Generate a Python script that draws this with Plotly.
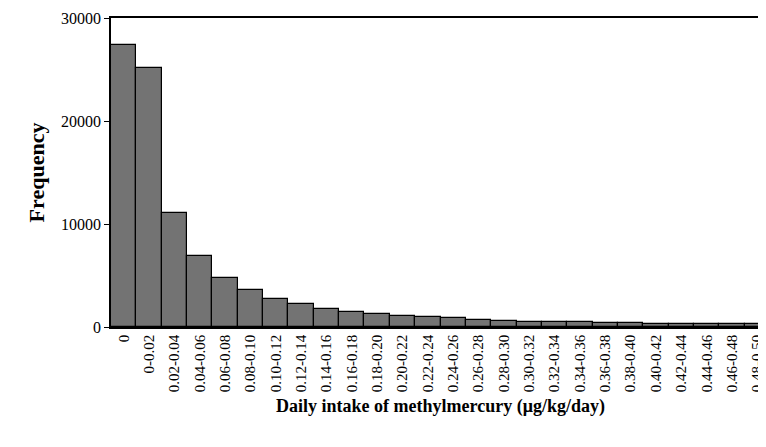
import plotly.graph_objects as go

categories = ["0","0-0.02","0.02-0.04","0.04-0.06","0.06-0.08","0.08-0.10","0.10-0.12","0.12-0.14",
              "0.14-0.16","0.16-0.18","0.18-0.20","0.20-0.22","0.22-0.24","0.24-0.26","0.26-0.28",
              "0.28-0.30","0.30-0.32","0.32-0.34","0.34-0.36","0.36-0.38","0.38-0.40","0.40-0.42",
              "0.42-0.44","0.44-0.46","0.46-0.48","0.48-0.50"]
frequency = [27400, 25100, 11100, 6900, 4750, 3600, 2750, 2200, 1750, 1450, 1250, 1100, 970,
             850, 710, 610, 520, 480, 470, 420, 360, 330, 280, 250, 250, 250]

fig = go.Figure(go.Bar(x=categories, y=frequency, marker=dict(color="#737373", line=dict(color="black", width=1.2)),
                       width=1.0))
font = "Liberation Serif"
fig.update_layout(
    width=766, height=447, margin=dict(l=103, r=4, t=10, b=128, autoexpand=False),
    plot_bgcolor="white", paper_bgcolor="white", showlegend=False,
    font=dict(family=font, color="black", size=16),
    bargap=0,
)
fig.update_xaxes(tickangle=-90, showline=True, linecolor="black", linewidth=1.5, mirror=True,
                 ticks="", tickfont=dict(size=15), automargin=False,
                 title=dict(text="<b>Daily intake of methylmercury (μg/kg/day)</b>", font=dict(size=18), standoff=8))
fig.update_yaxes(range=[0, 30000], dtick=10000, tickformat="d", showline=True, linecolor="black", linewidth=1.5, mirror=True,
                 ticks="outside", ticklen=5, tickcolor="black", showgrid=False, tickfont=dict(size=16), automargin=False,
                 title=dict(text="<b>Frequency</b>", font=dict(size=22), standoff=10))
fig.write_html("out.html")
